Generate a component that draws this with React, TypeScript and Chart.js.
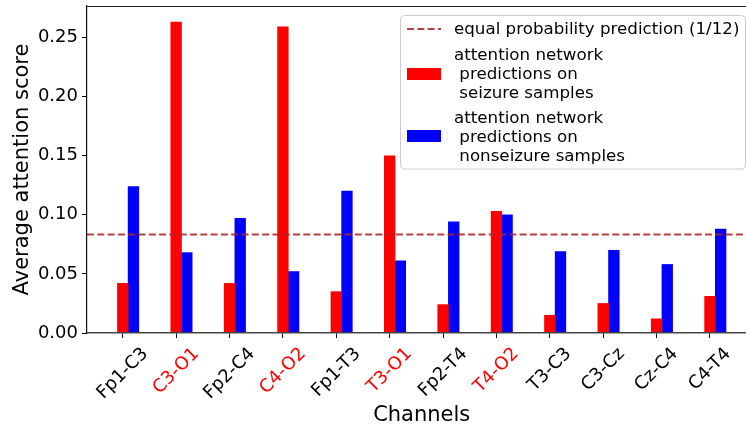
import React, { useEffect, useRef } from "react";
import { Chart, registerables } from "chart.js";

Chart.register(...registerables);

// ---- data ----
const channels = [
  "Fp1-C3", "C3-O1", "Fp2-C4", "C4-O2", "Fp1-T3", "T3-O1",
  "Fp2-T4", "T4-O2", "T3-C3", "C3-Cz", "Cz-C4", "C4-T4",
];
const seizureChannels = ["C3-O1", "C4-O2", "T3-O1", "T4-O2"];
const seizureScores = [0.042, 0.263, 0.042, 0.259, 0.035, 0.150, 0.024, 0.103, 0.015, 0.025, 0.012, 0.031];
const nonseizureScores = [0.124, 0.068, 0.097, 0.052, 0.120, 0.061, 0.094, 0.100, 0.069, 0.070, 0.058, 0.088];
const equalProbability = 1 / 12;
const yTickValues = [0, 0.05, 0.1, 0.15, 0.2, 0.25];
const xTitle = "Channels";
const yTitle = "Average attention score";
const legendEqual = "equal probability prediction (1/12)";
const legendSeizure = ["attention network", " predictions on", " seizure samples"];
const legendNonseizure = ["attention network", " predictions on", " nonseizure samples"];

// ---- styling / layout ----
const FONT = "'DejaVu Sans', sans-serif";
const BAR_W = 0.2;
const X_MIN = -0.67;
const X_MAX = 11.675;
const X_AXES_MAX = 11.87; // full axes extent (partly beyond the canvas)
const Y_MAX = 0.2767;
const LINE_COLOR = "rgba(172,38,38,0.88)";
const DASH = [7, 3.3];

const framePlugin = {
  id: "frame",
  afterDraw(chart: any) {
    const { ctx, chartArea } = chart;
    ctx.save();
    ctx.strokeStyle = "#222";
    ctx.lineWidth = 1.2;
    ctx.beginPath();
    ctx.moveTo(chartArea.left, chartArea.top + 0.5);
    ctx.lineTo(chartArea.right, chartArea.top + 0.5);
    ctx.stroke();
    ctx.restore();
  },
};

const labelPlugin = {
  id: "labels",
  afterDraw(chart: any) {
    const { ctx, chartArea } = chart;
    const xs = chart.scales.x;
    const size = 18;
    ctx.save();
    ctx.font = `${size}px ${FONT}`;
    ctx.textAlign = "center";
    ctx.textBaseline = "middle";
    const top = chartArea.bottom + 5.3 + 5.3;
    channels.forEach((lab, i) => {
      const x = xs.getPixelForValue(i);
      const w = ctx.measureText(lab).width;
      const h = size * 1.17;
      const H = (w + h) * Math.SQRT1_2;
      ctx.save();
      ctx.translate(x, top + H / 2);
      ctx.rotate(-Math.PI / 4);
      ctx.fillStyle = seizureChannels.includes(lab) ? "#ff0000" : "#000000";
      ctx.fillText(lab, 0, 0);
      ctx.restore();
    });

    // axis titles
    ctx.fillStyle = "#000";
    ctx.font = `21px ${FONT}`;
    ctx.textAlign = "center";
    ctx.textBaseline = "alphabetic";
    const cx = xs.getPixelForValue((X_MIN + X_AXES_MAX) / 2);
    ctx.fillText(xTitle, cx, 421);
    ctx.save();
    ctx.translate(27.5, (chartArea.top + chartArea.bottom) / 2);
    ctx.rotate(-Math.PI / 2);
    ctx.fillText(yTitle, 0, 0);
    ctx.restore();
    ctx.restore();
  },
};

const legendPlugin = {
  id: "customLegend",
  afterDraw(chart: any) {
    const { ctx } = chart;
    const bx = 400.5, by = 15.5, bw = 345, bh = 153.5, r = 4;
    ctx.save();
    ctx.beginPath();
    ctx.moveTo(bx + r, by);
    ctx.lineTo(bx + bw - r, by);
    ctx.quadraticCurveTo(bx + bw, by, bx + bw, by + r);
    ctx.lineTo(bx + bw, by + bh - r);
    ctx.quadraticCurveTo(bx + bw, by + bh, bx + bw - r, by + bh);
    ctx.lineTo(bx + r, by + bh);
    ctx.quadraticCurveTo(bx, by + bh, bx, by + bh - r);
    ctx.lineTo(bx, by + r);
    ctx.quadraticCurveTo(bx, by, bx + r, by);
    ctx.closePath();
    ctx.fillStyle = "rgba(255,255,255,0.8)";
    ctx.fill();
    ctx.strokeStyle = "#cccccc";
    ctx.lineWidth = 1;
    ctx.stroke();

    // handles
    const hx = 407, hw = 34;
    ctx.strokeStyle = LINE_COLOR;
    ctx.lineWidth = 2;
    ctx.setLineDash(DASH);
    ctx.beginPath();
    ctx.moveTo(hx, 29);
    ctx.lineTo(hx + hw, 29);
    ctx.stroke();
    ctx.setLineDash([]);
    ctx.fillStyle = "#ff0000";
    ctx.fillRect(hx, 68, hw, 12);
    ctx.fillStyle = "#0000ff";
    ctx.fillRect(hx, 130, hw, 12);

    // texts
    ctx.fillStyle = "#000";
    ctx.font = `16.7px ${FONT}`;
    ctx.textAlign = "left";
    ctx.textBaseline = "alphabetic";
    const tx = 454;
    ctx.fillText(legendEqual, tx, 33.5);
    legendSeizure.forEach((t, i) => ctx.fillText(t, tx, 59.5 + i * 19));
    legendNonseizure.forEach((t, i) => ctx.fillText(t, tx, 122.5 + i * 19));
    ctx.restore();
  },
};

export default function App() {
  const ref = useRef<HTMLCanvasElement | null>(null);

  useEffect(() => {
    if (!ref.current) return;
    const chart = new Chart(ref.current, {
      type: "bar",
      data: {
        datasets: [
          {
            type: "line",
            label: legendEqual,
            data: [
              { x: X_MIN, y: equalProbability },
              { x: X_MAX, y: equalProbability },
            ],
            borderColor: LINE_COLOR,
            borderWidth: 2,
            borderDash: DASH,
            pointRadius: 0,
            fill: false,
            order: 0,
          } as any,
          {
            type: "bar",
            label: "seizure",
            data: seizureScores.map((v, i) => ({ x: i, y: v })),
            backgroundColor: "#ff0000",
            borderWidth: 0,
            grouped: false,
            barPercentage: 1,
            categoryPercentage: 1,
            order: 1,
          } as any,
          {
            type: "bar",
            label: "nonseizure",
            data: nonseizureScores.map((v, i) => ({ x: i + BAR_W, y: v })),
            backgroundColor: "#0000ff",
            borderWidth: 0,
            grouped: false,
            barPercentage: 1,
            categoryPercentage: 1,
            order: 1,
          } as any,
        ],
      },
      options: {
        animation: false,
        responsive: false,
        devicePixelRatio: 1,
        layout: { padding: { top: 6, left: 0, right: 0, bottom: 0 } },
        plugins: {
          legend: { display: false },
          tooltip: { enabled: false },
        },
        scales: {
          x: {
            type: "linear",
            min: X_MIN,
            max: X_MAX,
            offset: false,
            afterBuildTicks: (axis: any) => {
              axis.ticks = channels.map((_, i) => ({ value: i }));
            },
            afterFit: (s: any) => {
              s.height = 92;
              s.paddingLeft = 0;
              s.paddingRight = 0;
            },
            ticks: { display: false },
            grid: {
              offset: false,
              drawOnChartArea: false,
              drawTicks: true,
              tickLength: 5,
              color: "#000",
              lineWidth: 1,
            },
            border: { display: true, color: "#444", width: 1.4, z: 1 },
            title: { display: false },
          },
          y: {
            type: "linear",
            min: 0,
            max: Y_MAX,
            afterBuildTicks: (axis: any) => {
              axis.ticks = yTickValues.map((v) => ({ value: v }));
            },
            afterFit: (s: any) => {
              s.width = 87;
              s.paddingTop = 0;
              s.paddingBottom = 0;
            },
            ticks: {
              color: "#000",
              padding: 4,
              font: { family: FONT, size: 18 },
              callback: (v: any) => Number(v).toFixed(2),
            },
            grid: {
              drawOnChartArea: false,
              drawTicks: true,
              tickLength: 5,
              color: "#000",
              lineWidth: 1,
            },
            border: { display: true, color: "#111", width: 1.2, z: 1 },
            title: { display: false },
          },
        },
      } as any,
      plugins: [framePlugin, labelPlugin, legendPlugin],
    });
    return () => chart.destroy();
  }, []);

  return (
    <div style={{ position: "absolute", left: 0, top: 0, width: 746, height: 425, background: "#fff" }}>
      <canvas ref={ref} width={746} height={425} style={{ display: "block" }} />
    </div>
  );
}
